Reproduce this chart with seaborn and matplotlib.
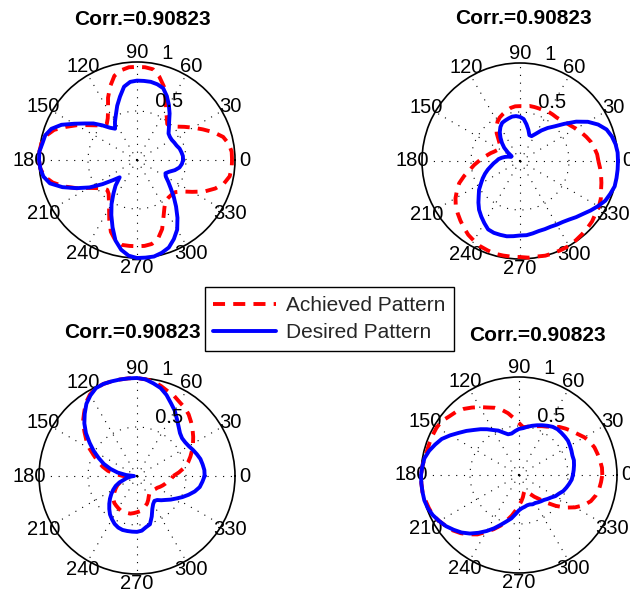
import numpy as np
import matplotlib
matplotlib.use("Agg")
import matplotlib.pyplot as plt
import seaborn as sns

sns.set_style("white")
plt.rcParams["font.family"] = ["Liberation Sans", "DejaVu Sans"]

# Sampling angles (degrees) for every pattern
angles_deg = list(range(0, 360, 5))

# Angular and radial tick labels
angle_labels = [0, 30, 60, 90, 120, 150, 180, 210, 240, 270, 300, 330]
radial_ticks = [0.5, 1]

title_text = "Corr.=0.90823"
series_names = ["Achieved Pattern", "Desired Pattern"]

# Normalised beam patterns, one value every 5 degrees starting at 0
achieved_1 = [0.97, 0.97, 0.95, 0.91, 0.83, 0.74, 0.66, 0.59, 0.53, 0.48, 0.48, 0.53,
              0.59, 0.69, 0.80, 0.88, 0.94, 0.95, 0.95, 0.95, 0.93, 0.89, 0.80, 0.70,
              0.59, 0.52, 0.48, 0.50, 0.55, 0.62, 0.71, 0.80, 0.90, 0.96, 0.99, 1.00,
              1.00, 0.99, 0.96, 0.89, 0.79, 0.68, 0.57, 0.50, 0.45, 0.43, 0.45, 0.50,
              0.57, 0.67, 0.78, 0.85, 0.88, 0.88, 0.88, 0.88, 0.87, 0.83, 0.75, 0.64,
              0.56, 0.51, 0.50, 0.50, 0.51, 0.56, 0.65, 0.76, 0.85, 0.92, 0.96, 0.97]
desired_1 = [0.47, 0.47, 0.46, 0.45, 0.43, 0.42, 0.41, 0.41, 0.42, 0.46, 0.51, 0.58,
             0.65, 0.72, 0.78, 0.80, 0.81, 0.81, 0.81, 0.80, 0.76, 0.67, 0.59, 0.51,
             0.45, 0.39, 0.43, 0.50, 0.58, 0.65, 0.74, 0.85, 0.93, 0.97, 0.98, 1.00,
             1.00, 0.99, 0.97, 0.92, 0.81, 0.68, 0.56, 0.43, 0.32, 0.25, 0.34, 0.42,
             0.52, 0.62, 0.73, 0.85, 0.93, 0.98, 1.00, 1.00, 1.00, 0.98, 0.95, 0.89,
             0.82, 0.72, 0.62, 0.53, 0.45, 0.39, 0.34, 0.32, 0.35, 0.40, 0.44, 0.46]

achieved_2 = [0.80, 0.79, 0.77, 0.75, 0.72, 0.69, 0.66, 0.63, 0.61, 0.59, 0.58, 0.58,
              0.58, 0.57, 0.57, 0.57, 0.57, 0.56, 0.56, 0.56, 0.55, 0.53, 0.51, 0.49,
              0.46, 0.42, 0.37, 0.31, 0.27, 0.25, 0.25, 0.26, 0.28, 0.31, 0.34, 0.38,
              0.42, 0.47, 0.52, 0.59, 0.66, 0.71, 0.76, 0.80, 0.83, 0.86, 0.89, 0.92,
              0.94, 0.96, 0.97, 0.98, 0.98, 0.98, 0.98, 0.99, 0.99, 1.00, 1.00, 1.00,
              1.00, 0.99, 0.98, 0.97, 0.96, 0.94, 0.93, 0.91, 0.88, 0.86, 0.84, 0.82]
desired_2 = [1.00, 1.00, 0.99, 0.97, 0.94, 0.88, 0.80, 0.70, 0.59, 0.50, 0.44, 0.38,
             0.32, 0.28, 0.28, 0.33, 0.38, 0.43, 0.45, 0.46, 0.46, 0.45, 0.44, 0.43,
             0.40, 0.36, 0.31, 0.26, 0.21, 0.15, 0.10, 0.10, 0.13, 0.16, 0.19, 0.22,
             0.24, 0.27, 0.30, 0.34, 0.38, 0.42, 0.46, 0.51, 0.55, 0.60, 0.65, 0.69,
             0.73, 0.77, 0.78, 0.78, 0.78, 0.77, 0.76, 0.76, 0.75, 0.74, 0.74, 0.74,
             0.75, 0.76, 0.78, 0.81, 0.84, 0.88, 0.92, 0.96, 0.98, 1.00, 1.00, 1.00]

achieved_3 = [0.37, 0.43, 0.49, 0.54, 0.58, 0.62, 0.66, 0.70, 0.74, 0.78, 0.82, 0.85,
              0.87, 0.90, 0.92, 0.95, 0.98, 0.99, 1.00, 1.00, 1.00, 1.00, 1.00, 0.99,
              0.96, 0.91, 0.84, 0.78, 0.70, 0.63, 0.56, 0.48, 0.42, 0.36, 0.30, 0.22,
              0.14, 0.09, 0.10, 0.14, 0.18, 0.22, 0.25, 0.28, 0.31, 0.34, 0.36, 0.37,
              0.38, 0.39, 0.39, 0.39, 0.39, 0.38, 0.37, 0.36, 0.34, 0.32, 0.30, 0.27,
              0.24, 0.22, 0.21, 0.21, 0.22, 0.23, 0.24, 0.26, 0.28, 0.30, 0.32, 0.35]
desired_3 = [0.69, 0.69, 0.68, 0.67, 0.65, 0.63, 0.61, 0.60, 0.60, 0.62, 0.66, 0.71,
             0.77, 0.82, 0.88, 0.93, 0.96, 0.99, 1.00, 1.00, 1.00, 1.00, 1.00, 0.99,
             0.95, 0.90, 0.83, 0.76, 0.68, 0.59, 0.51, 0.43, 0.36, 0.28, 0.20, 0.11,
             0.03, 0.06, 0.10, 0.13, 0.19, 0.24, 0.28, 0.32, 0.36, 0.40, 0.44, 0.48,
             0.51, 0.54, 0.56, 0.57, 0.57, 0.57, 0.57, 0.56, 0.53, 0.51, 0.44, 0.37,
             0.33, 0.31, 0.32, 0.35, 0.38, 0.42, 0.46, 0.51, 0.56, 0.61, 0.65, 0.67]

achieved_4 = [0.85, 0.85, 0.84, 0.83, 0.82, 0.80, 0.77, 0.73, 0.70, 0.67, 0.64, 0.60,
              0.57, 0.55, 0.53, 0.52, 0.50, 0.49, 0.53, 0.58, 0.64, 0.69, 0.73, 0.76,
              0.80, 0.84, 0.88, 0.91, 0.93, 0.96, 0.97, 0.97, 0.97, 0.97, 0.98, 0.99,
              1.00, 1.00, 1.00, 0.99, 0.98, 0.97, 0.94, 0.91, 0.88, 0.84, 0.79, 0.74,
              0.67, 0.61, 0.55, 0.48, 0.42, 0.36, 0.31, 0.27, 0.23, 0.19, 0.17, 0.18,
              0.22, 0.27, 0.32, 0.40, 0.49, 0.58, 0.66, 0.73, 0.78, 0.81, 0.83, 0.84]
desired_4 = [0.55, 0.56, 0.57, 0.58, 0.58, 0.59, 0.60, 0.61, 0.61, 0.61, 0.61, 0.60,
             0.58, 0.56, 0.54, 0.52, 0.50, 0.48, 0.47, 0.45, 0.43, 0.43, 0.46, 0.50,
             0.53, 0.57, 0.61, 0.65, 0.70, 0.75, 0.81, 0.87, 0.91, 0.95, 0.98, 0.99,
             1.00, 1.00, 1.00, 1.00, 0.99, 0.97, 0.94, 0.91, 0.87, 0.83, 0.78, 0.72,
             0.66, 0.60, 0.54, 0.49, 0.45, 0.40, 0.36, 0.34, 0.33, 0.32, 0.32, 0.33,
             0.33, 0.34, 0.35, 0.36, 0.38, 0.40, 0.43, 0.45, 0.48, 0.50, 0.52, 0.54]

W, H = 630, 592
R = 98
FS = 14.5

# (centre x, centre y, achieved, desired, title x, title y) in pixels
panels = [
    (137, 160, achieved_1, desired_1, 142.5, 19.5),
    (520, 161, achieved_2, desired_2, 523.0, 19.0),
    (137, 476, achieved_3, desired_3, 132.5, 332.0),
    (519, 475, achieved_4, desired_4, 537.0, 335.5),
]

fig = plt.figure(figsize=(W / 100, H / 100), dpi=100)

theta = np.deg2rad(angles_deg + [360])
legend_handles = None

for cx, cy, ach, des, tx, ty in panels:
    ax = fig.add_axes([(cx - R) / W, (H - cy - R) / H, 2 * R / W, 2 * R / H],
                      projection="polar")
    sns.lineplot(x=theta, y=ach + [ach[0]], ax=ax, sort=False, errorbar=None,
                 color="#FF0000", linewidth=2.8, linestyle=(0, (3.1, 2.1)))
    sns.lineplot(x=theta, y=des + [des[0]], ax=ax, sort=False, errorbar=None,
                 color="#0000FF", linewidth=2.8)
    for ln in ax.lines:
        ln.set_clip_on(False)
        ln.set_zorder(4)
    if ax.get_legend() is not None:
        ax.get_legend().remove()
    if legend_handles is None:
        legend_handles = list(ax.lines[:2])

    ax.set_ylim(0, 1)
    ax.set_xticks(np.deg2rad(angle_labels))
    ax.set_xticklabels([])
    ax.set_yticks([0.5])
    ax.set_yticklabels([])
    ax.set_xlabel("")
    ax.set_ylabel("")
    ax.grid(True, color="black", linestyle=(0, (1, 6)), linewidth=0.8)
    ax.spines["polar"].set_color("black")
    ax.spines["polar"].set_linewidth(1.2)
    ax.spines["polar"].set_zorder(3)

    for a in angle_labels:
        ax.text(np.deg2rad(a), 1.1, str(a), ha="center", va="center",
                fontsize=FS, color="black", clip_on=False)
    for v in radial_ticks:
        ax.text(np.deg2rad(82), v, f"  {v:g}", ha="left", va="bottom",
                fontsize=FS, color="black", clip_on=False, zorder=5)

    fig.text(tx / W, 1 - ty / H, title_text, ha="center", va="center",
             fontsize=15, fontweight="bold", color="black")

leg = fig.legend(legend_handles, series_names, loc="center",
                 bbox_to_anchor=(329.5 / W, 1 - 319 / H), fontsize=15,
                 frameon=True, fancybox=False, edgecolor="black", framealpha=1,
                 handlelength=3.0, handletextpad=0.5, borderpad=0.42,
                 labelspacing=0.38)
leg.get_frame().set_linewidth(1.0)

fig.savefig("out.png", dpi=100)
